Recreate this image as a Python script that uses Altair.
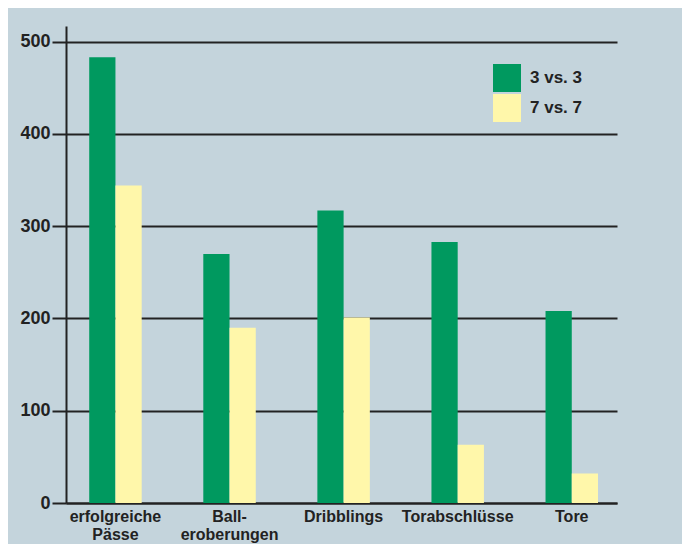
import altair as alt
import pandas as pd

categories = ["erfolgreiche|Pässe", "Ball-|eroberungen", "Dribblings", "Torabschlüsse", "Tore"]
series = ["3 vs. 3", "7 vs. 7"]
values_3v3 = [483, 270, 317, 283, 208]
values_7v7 = [344, 190, 201, 63, 32]
y_ticks = [0, 100, 200, 300, 400, 500]

rows = []
for c, a, b in zip(categories, values_3v3, values_7v7):
    rows.append({"cat": c, "series": series[0], "value": a})
    rows.append({"cat": c, "series": series[1], "value": b})
df = pd.DataFrame(rows)

FONT = "Liberation Sans, Arial, sans-serif"
INK = "#222222"

chart = alt.Chart(df).mark_bar().encode(
    x=alt.X("cat:N", sort=categories,
            scale=alt.Scale(paddingInner=0.54, paddingOuter=0.185, align=0.55),
            axis=alt.Axis(title=None, labelAngle=0, ticks=False, grid=False,
                          labelExpr="split(datum.label, '|')",
                          labelFont=FONT, labelFontSize=16, labelFontWeight="bold",
                          labelColor=INK, labelPadding=5, labelBaseline="top",
                          labelLineHeight=18, domainColor=INK, domainWidth=2)),
    xOffset=alt.XOffset("series:N", sort=series),
    y=alt.Y("value:Q", scale=alt.Scale(domain=[0, 517], nice=False),
            axis=alt.Axis(title=None, values=y_ticks, grid=True, gridColor=INK,
                          gridWidth=2, gridOpacity=1, tickSize=14, tickColor=INK,
                          tickWidth=2, domainColor=INK, domainWidth=2,
                          labelFont=FONT, labelFontSize=18, labelFontWeight="bold",
                          labelColor=INK, labelPadding=2)),
    color=alt.Color("series:N", sort=series,
                    scale=alt.Scale(domain=series, range=["#00995f", "#fff7aa"]),
                    legend=alt.Legend(title=None, orient="none", legendX=427, legendY=38,
                                      symbolType="square", symbolSize=784,
                                      symbolStrokeWidth=0, rowPadding=2, padding=0,
                                      labelFont=FONT, labelFontSize=17,
                                      labelFontWeight="bold", labelColor=INK,
                                      labelOffset=9)),
).properties(
    width=551, height=477,
    background="#c4d4dc",
    autosize=alt.AutoSizeParams(type="none"),
    padding={"left": 58, "top": 18, "right": 65, "bottom": 41},
).configure_view(stroke=None, fill="#c4d4dc")

chart.save("out.html", embed_options={"renderer": "svg", "actions": False})
